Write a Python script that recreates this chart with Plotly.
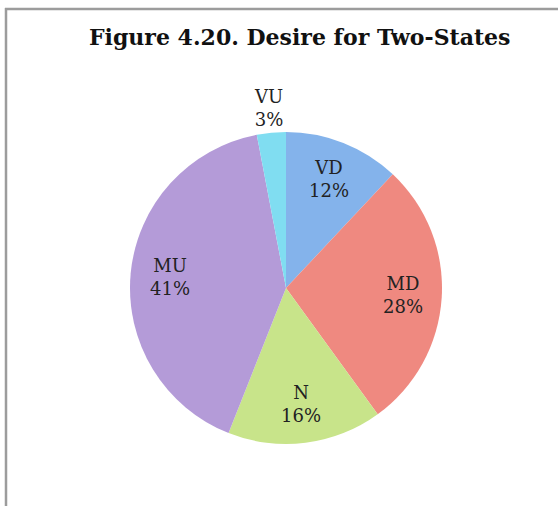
import math
import plotly.graph_objects as go

labels = ["VD", "MD", "N", "MU", "VU"]
values = [12, 28, 16, 41, 3]
colors = ["#84b3eb", "#ef8980", "#c8e48a", "#b49bd8", "#80ddf1"]
label_placement = ["inside", "inside", "inside", "inside", "outside"]
title_text = "Figure 4.20. Desire for Two-States"

W, H = 558, 506
cx, cy, r = 286, 288, 156          # pie centre / radius in pixels
inside_frac, outside_frac = 0.75, 1.16

fig = go.Figure(go.Pie(
    labels=labels,
    values=values,
    sort=False,
    direction="clockwise",
    rotation=0,
    marker=dict(colors=colors, line=dict(width=0)),
    textinfo="none",
    showlegend=False,
    hoverinfo="label+percent",
    domain=dict(x=[(cx - r) / W, (cx + r) / W], y=[(H - cy - r) / H, (H - cy + r) / H]),
))

# slice labels placed at the slice mid-angle, computed from the data
total = sum(values)
annotations = []
cum = 0
for lab, v, place in zip(labels, values, label_placement):
    mid = (cum + v / 2) / total * 2 * math.pi
    cum += v
    f = inside_frac if place == "inside" else outside_frac
    px = cx + f * r * math.sin(mid)
    py = cy - f * r * math.cos(mid)
    annotations.append(dict(
        x=px / W, y=1 - py / H, xref="paper", yref="paper",
        xanchor="center", yanchor="middle", showarrow=False,
        text=f"{lab}<br>{round(v / total * 100)}%",
        font=dict(family="DejaVu Serif", size=18, color="#222222"),
    ))

annotations.append(dict(
    x=300 / W, y=1 - 37 / H, xref="paper", yref="paper",
    xanchor="center", yanchor="middle", showarrow=False,
    text="<b>" + title_text + "</b>",
    font=dict(family="DejaVu Serif", size=22, color="#111111"),
))

fig.update_layout(
    width=W, height=H,
    margin=dict(l=0, r=0, t=0, b=0),
    paper_bgcolor="white",
    annotations=annotations,
    shapes=[
        dict(type="line", xref="paper", yref="paper", x0=5 / W, x1=1, y0=1 - 9 / H, y1=1 - 9 / H,
             line=dict(color="#9c9c9c", width=2.5)),
        dict(type="line", xref="paper", yref="paper", x0=6 / W, x1=6 / W, y0=0, y1=1 - 8 / H,
             line=dict(color="#9c9c9c", width=2.5)),
    ],
)

fig.write_html("out.html", config={"displayModeBar": False},
               post_script="document.body.style.margin='0';")
